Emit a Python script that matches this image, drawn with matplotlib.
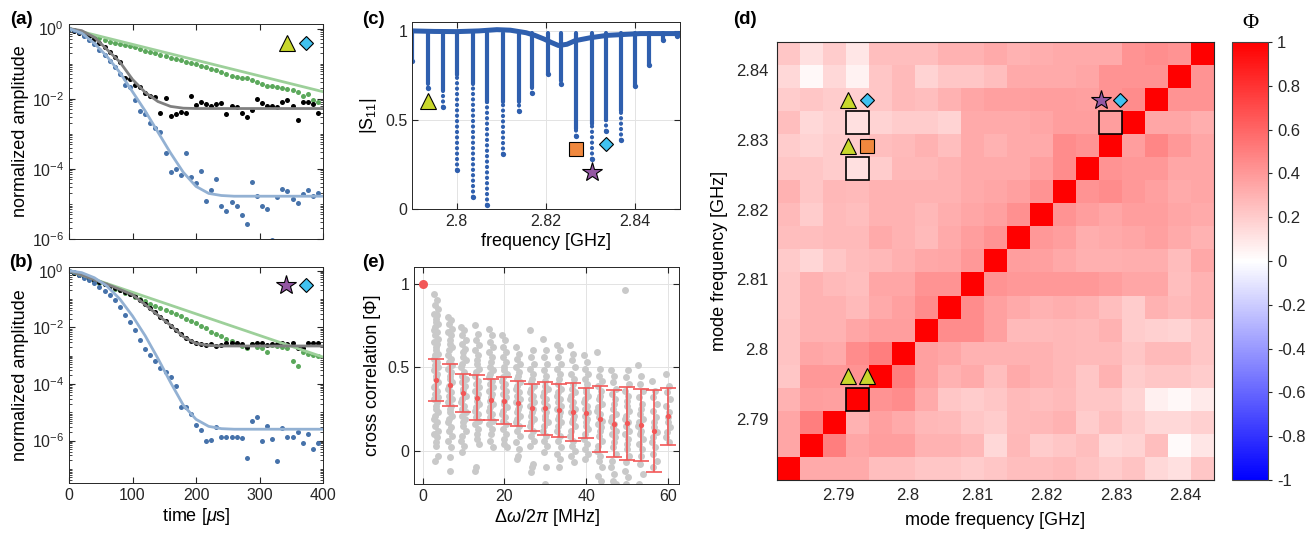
import numpy as np
import matplotlib
matplotlib.use('Agg')
import matplotlib.pyplot as plt
from matplotlib.colors import LinearSegmentedColormap
from matplotlib.patches import Rectangle
from matplotlib.ticker import LogLocator, NullFormatter, FuncFormatter

plt.rcParams['font.family'] = ['Liberation Sans', 'DejaVu Sans']
plt.rcParams['font.size'] = 11.5
plt.rcParams['axes.unicode_minus'] = False
plt.rcParams['mathtext.fontset'] = 'custom'
plt.rcParams['mathtext.rm'] = 'Liberation Sans'
plt.rcParams['mathtext.it'] = 'Liberation Sans:italic'
plt.rcParams['mathtext.bf'] = 'Liberation Sans:bold'

# ---------------- data: ring-down traces (log10 of normalized amplitude)
t_us = np.arange(0, 400, 8)
fit_t = list(range(0, 401, 20))

a_blue = [0, -0.03, -0.1, -0.2, -0.33, -0.45, -0.6, -0.75, -0.92, -1.1,
          -1.3, -1.61, -1.66, -2.05, -2.34, -2.44, -2.68, -2.83, -2.95, -3.56,
          -4.08, -4.0, -4.18, -3.56, -4.24, -4.39, -4.05, -4.91, -4.61, -4.29,
          -5.07, -5.19, -4.95, -5.05, -5.32, -5.58, -4.37, -4.76, -5.07, -5.14,
          -6.03, -4.8, -4.57, -4.63, -4.86, -4.98, -4.73, -4.61, -4.78, -4.7]
a_black = [0, -0.06, -0.12, -0.17, -0.22, -0.3, -0.4, -0.52, -0.66, -0.82,
           -0.96, -1.4, -1.45, -1.62, -1.66, -1.85, -1.92, -1.95, -2.42, -1.98,
           -2.5, -2.45, -2.38, -2.4, -1.92, -2.18, -2.08, -2.15, -2.2, -2.15,
           -2.12, -2.45, -2.2, -2.25, -2.42, -2.52, -2.32, -2.0, -2.12, -2.22,
           -2.2, -2.25, -2.1, -2.05, -2.2, -2.62, -2.08, -2.1, -2.15, -2.4]
a_green = [0, -0.04, -0.09, -0.15, -0.2, -0.24, -0.28, -0.33, -0.37, -0.4,
           -0.43, -0.47, -0.5, -0.54, -0.59, -0.63, -0.66, -0.7, -0.74, -0.78,
           -0.83, -0.87, -0.91, -0.95, -0.98, -1.02, -1.07, -1.11, -1.15, -1.19,
           -1.25, -1.29, -1.34, -1.37, -1.4, -1.42, -1.47, -1.53, -1.58, -1.63,
           -1.64, -1.67, -1.69, -1.71, -1.75, -1.82, -1.92, -1.87, -2.05, -2.08]
a_blue_fit = [0, -0.13, -0.42, -0.8, -1.25, -1.8, -2.35, -2.95, -3.55, -4.1, -4.5,
              -4.7, -4.76, -4.78, -4.78, -4.78, -4.78, -4.78, -4.78, -4.78, -4.78]
a_black_fit = [0, -0.06, -0.25, -0.6, -0.95, -1.45, -1.82, -2.08, -2.22, -2.27, -2.28,
               -2.28, -2.28, -2.28, -2.28, -2.28, -2.28, -2.28, -2.28, -2.28, -2.28]
a_green_fit = [0, -1.8]

b_blue = [0, -0.06, -0.15, -0.25, -0.33, -0.44, -0.58, -0.72, -0.85, -1.03,
          -1.3, -1.55, -1.8, -2.1, -2.45, -2.75, -2.98, -3.2, -3.45, -3.58,
          -3.75, -4.06, -4.83, -4.83, -5.06, -5.46, -5.63, -6.0, -5.97, -5.51,
          -5.86, -5.86, -5.89, -5.86, -5.91, -6.63, -5.31, -5.17, -6.0, -5.49,
          -5.95, -6.71, -5.54, -5.86, -5.86, -5.69, -6.09, -5.77, -6.31, -6.09]
b_black = [0, -0.07, -0.14, -0.21, -0.27, -0.34, -0.41, -0.47, -0.54, -0.62,
           -0.68, -0.75, -0.82, -0.9, -1.02, -1.17, -1.32, -1.47, -1.62, -1.78,
           -1.95, -2.08, -2.23, -2.38, -2.5, -2.55, -2.6, -2.62, -2.58, -2.66,
           -2.61, -2.57, -2.57, -2.57, -2.58, -2.69, -2.59, -2.55, -2.57, -2.63,
           -2.59, -2.59, -2.57, -2.59, -2.57, -2.72, -2.73, -2.57, -2.57, -2.57]
b_green = [0, -0.065, -0.13, -0.205, -0.28, -0.35, -0.42, -0.48, -0.55, -0.63,
           -0.7, -0.78, -0.83, -0.92, -0.99, -1.08, -1.16, -1.24, -1.32, -1.39,
           -1.46, -1.52, -1.6, -1.69, -1.77, -1.86, -1.94, -2.03, -2.15, -2.23,
           -2.31, -2.41, -2.5, -2.58, -2.66, -2.72, -2.59, -2.69, -2.74, -2.89,
           -2.64, -2.65, -2.69, -2.72, -3.2, -3.37, -2.89, -2.94, -2.98, -3.03]
b_blue_fit = [0, -0.07, -0.25, -0.55, -1.0, -1.6, -2.3, -3.1, -3.95, -4.75, -5.25,
              -5.5, -5.58, -5.6, -5.6, -5.6, -5.6, -5.6, -5.6, -5.6, -5.6]
b_black_fit = [0, -0.15, -0.32, -0.48, -0.66, -0.85, -1.2, -1.57, -1.93, -2.33, -2.57,
               -2.64, -2.66, -2.66, -2.66, -2.66, -2.66, -2.66, -2.66, -2.66, -2.66]
b_green_fit = [0, -3.05]

# ---------------- data: reflection spectrum |S11|
base_f = [2.79, 2.795, 2.80, 2.805, 2.809, 2.812, 2.8155, 2.8175, 2.8195, 2.8212,
          2.8228, 2.8247, 2.8265, 2.830, 2.8337, 2.8412, 2.85]
base_s = [1.0, 0.997, 0.996, 1.0, 1.007, 1.004, 0.99, 0.975, 0.955, 0.935,
          0.918, 0.925, 0.945, 0.962, 0.975, 0.985, 0.985]
dip_f = [2.7901, 2.7936, 2.7969, 2.8001, 2.8037, 2.8068, 2.8103, 2.8139, 2.8169, 2.8204,
         2.8234, 2.8268, 2.8303, 2.8335, 2.8368, 2.8400, 2.8430, 2.8463, 2.8494]
dip_solid = [0.83, 0.70, 0.66, 0.75, 0.70, 0.60, 0.60, 0.60, 0.68, 0.76,
             0.72, 0.45, 0.48, 0.50, 0.55, 0.69, 0.81, 0.95, 0.97]
dip_min = [0.83, 0.68, 0.57, 0.22, 0.07, 0.025, 0.31, 0.55, 0.65, 0.76,
           0.70, 0.41, 0.28, 0.44, 0.39, 0.69, 0.81, 0.95, 0.97]

# ---------------- data: cross correlation vs detuning
e_dw = [3.3, 6.7, 10.0, 13.3, 16.7, 20.0, 23.3, 26.7, 30.0, 33.3,
        36.7, 40.0, 43.3, 46.7, 50.0, 53.3, 56.7, 60.0]
e_mean = [0.4235, 0.3915, 0.3455, 0.3175, 0.3055, 0.2985, 0.2825, 0.257, 0.253, 0.241,
          0.232, 0.226, 0.189, 0.1605, 0.165, 0.1515, 0.115, 0.2045]
e_std = [0.128, 0.125, 0.113, 0.135, 0.121, 0.14, 0.136, 0.141, 0.157, 0.161,
         0.176, 0.152, 0.199, 0.2, 0.219, 0.216, 0.246, 0.169]
e_cloud = [
    [0.94, 0.9, 0.87, 0.85, 0.82, 0.81, 0.79, 0.77, 0.76, 0.74, 0.72, 0.71, 0.69, 0.67,
     0.65, 0.64, 0.62, 0.6, 0.58, 0.57, 0.55, 0.53, 0.51, 0.5, 0.48, 0.46, 0.45, 0.43,
     0.41, 0.39, 0.38, 0.36, 0.34, 0.32, 0.31, 0.29, 0.27, 0.25, 0.23, 0.21, 0.19,
     0.17, 0.15, 0.12, 0.1, 0.08, 0.05, 0.03, -0.03, -0.06],
    [0.8, 0.78, 0.76, 0.73, 0.71, 0.69, 0.66, 0.64, 0.62, 0.6, 0.57, 0.55, 0.53, 0.51,
     0.49, 0.47, 0.45, 0.43, 0.41, 0.39, 0.37, 0.35, 0.33, 0.31, 0.29, 0.27, 0.25,
     0.23, 0.21, 0.19, 0.17, 0.14, 0.12, 0.09, 0.06, 0.02, -0.04, -0.12],
    [0.74, 0.72, 0.69, 0.66, 0.64, 0.61, 0.59, 0.56, 0.54, 0.52, 0.5, 0.47, 0.45, 0.43,
     0.41, 0.39, 0.37, 0.35, 0.33, 0.31, 0.29, 0.27, 0.25, 0.23, 0.21, 0.19, 0.17,
     0.15, 0.12, 0.09, 0.06, 0.03, -0.01],
    [0.75, 0.7, 0.66, 0.63, 0.6, 0.57, 0.54, 0.52, 0.49, 0.47, 0.45, 0.42, 0.4, 0.38,
     0.36, 0.34, 0.32, 0.3, 0.28, 0.26, 0.24, 0.22, 0.2, 0.18, 0.16, 0.13, 0.1, 0.07,
     0.04, -0.1, -0.12],
    [0.73, 0.69, 0.65, 0.62, 0.59, 0.56, 0.53, 0.5, 0.48, 0.46, 0.44, 0.42, 0.4, 0.38,
     0.36, 0.34, 0.32, 0.3, 0.28, 0.26, 0.24, 0.22, 0.2, 0.18, 0.16, 0.13, 0.1, 0.06, 0.02],
    [0.69, 0.66, 0.62, 0.59, 0.56, 0.53, 0.5, 0.48, 0.46, 0.44, 0.42, 0.4, 0.38, 0.36,
     0.34, 0.32, 0.3, 0.28, 0.26, 0.24, 0.22, 0.2, 0.18, 0.16, 0.13, 0.1, 0.07, 0.04, 0.02],
    [0.62, 0.58, 0.55, 0.52, 0.5, 0.47, 0.45, 0.43, 0.41, 0.39, 0.37, 0.35, 0.33, 0.31,
     0.29, 0.27, 0.25, 0.23, 0.21, 0.19, 0.17, 0.15, 0.12, 0.09, 0.05, 0.01, -0.03, -0.05],
    [0.72, 0.6, 0.56, 0.52, 0.49, 0.46, 0.43, 0.41, 0.39, 0.37, 0.35, 0.33, 0.31, 0.29,
     0.27, 0.25, 0.23, 0.21, 0.19, 0.17, 0.15, 0.12, 0.09, 0.06, 0.03, -0.08, -0.1, -0.13],
    [0.67, 0.6, 0.56, 0.52, 0.48, 0.45, 0.42, 0.39, 0.37, 0.35, 0.33, 0.31, 0.29, 0.27,
     0.25, 0.23, 0.21, 0.19, 0.17, 0.15, 0.12, 0.09, 0.06, 0.03, -0.01, -0.1, -0.2],
    [0.63, 0.6, 0.56, 0.52, 0.49, 0.46, 0.43, 0.4, 0.37, 0.35, 0.33, 0.31, 0.29, 0.27,
     0.25, 0.23, 0.21, 0.19, 0.17, 0.15, 0.12, 0.09, 0.06, 0.02, -0.02, -0.05, -0.1],
    [0.63, 0.58, 0.54, 0.5, 0.46, 0.43, 0.4, 0.37, 0.35, 0.33, 0.31, 0.29, 0.27, 0.25,
     0.23, 0.21, 0.19, 0.17, 0.15, 0.12, 0.09, 0.06, 0.03, 0.0, -0.03, -0.07],
    [0.57, 0.53, 0.49, 0.46, 0.43, 0.4, 0.37, 0.35, 0.33, 0.31, 0.29, 0.27, 0.25, 0.23,
     0.21, 0.19, 0.17, 0.15, 0.13, 0.1, 0.07, 0.04, 0.01, -0.02, -0.05],
    [0.59, 0.49, 0.45, 0.42, 0.39, 0.36, 0.33, 0.31, 0.28, 0.26, 0.24, 0.22, 0.2, 0.18,
     0.16, 0.14, 0.12, 0.09, 0.06, 0.03, 0.0, -0.03, -0.06, -0.1, -0.15, -0.18],
    [0.48, 0.45, 0.41, 0.37, 0.34, 0.31, 0.28, 0.25, 0.22, 0.2, 0.18, 0.16, 0.14, 0.12,
     0.1, 0.08, 0.05, 0.02, -0.02, -0.06, -0.1, -0.14, -0.18, -0.2],
    [0.96, 0.48, 0.44, 0.4, 0.36, 0.33, 0.3, 0.27, 0.24, 0.21, 0.19, 0.17, 0.15, 0.12,
     0.1, 0.07, 0.04, 0.01, -0.03, -0.07, -0.12, -0.16, -0.2],
    [0.51, 0.45, 0.4, 0.36, 0.32, 0.28, 0.25, 0.22, 0.19, 0.17, 0.15, 0.12, 0.1, 0.07,
     0.04, 0.01, -0.03, -0.08, -0.14, -0.2],
    [0.42, 0.36, 0.32, 0.28, 0.24, 0.2, 0.17, 0.14, 0.11, 0.08, 0.05, 0.02, -0.02, -0.06, -0.1],
    [0.46, 0.39, 0.35, 0.31, 0.27, 0.23, 0.2, 0.17, 0.14, 0.11, 0.08, 0.05],
]

# ---------------- data: correlation matrix (rows listed from the highest mode down)
mode_lo, mode_hi = 2.7829, 2.8424
phi = [
    [0.22, 0.12, 0.2, 0.1, 0.25, 0.25, 0.25, 0.3, 0.3, 0.33, 0.3, 0.32, 0.33, 0.33, 0.33, 0.42, 0.44, 0.42, 1.0],
    [0.15, 0.03, 0.15, 0.05, 0.22, 0.27, 0.17, 0.22, 0.22, 0.25, 0.33, 0.33, 0.33, 0.35, 0.42, 0.42, 0.42, 1.0, 0.42],
    [0.2, 0.22, 0.2, 0.18, 0.22, 0.27, 0.25, 0.3, 0.35, 0.37, 0.37, 0.38, 0.38, 0.37, 0.42, 0.45, 1.0, 0.42, 0.42],
    [0.25, 0.15, 0.18, 0.12, 0.17, 0.2, 0.2, 0.17, 0.33, 0.33, 0.33, 0.35, 0.38, 0.38, 0.38, 1.0, 0.35, 0.35, 0.32],
    [0.2, 0.17, 0.2, 0.2, 0.25, 0.27, 0.3, 0.25, 0.33, 0.3, 0.33, 0.33, 0.45, 0.42, 1.0, 0.38, 0.47, 0.4, 0.35],
    [0.22, 0.22, 0.2, 0.12, 0.2, 0.28, 0.28, 0.3, 0.33, 0.33, 0.33, 0.37, 0.45, 1.0, 0.42, 0.4, 0.4, 0.35, 0.35],
    [0.3, 0.22, 0.28, 0.27, 0.3, 0.3, 0.3, 0.3, 0.33, 0.35, 0.37, 0.42, 1.0, 0.42, 0.45, 0.4, 0.37, 0.33, 0.35],
    [0.27, 0.2, 0.27, 0.25, 0.3, 0.3, 0.28, 0.32, 0.35, 0.37, 0.43, 1.0, 0.42, 0.38, 0.35, 0.38, 0.38, 0.35, 0.33],
    [0.25, 0.25, 0.27, 0.27, 0.33, 0.3, 0.27, 0.33, 0.38, 0.42, 1.0, 0.4, 0.38, 0.32, 0.33, 0.35, 0.37, 0.33, 0.3],
    [0.21, 0.16, 0.22, 0.26, 0.28, 0.31, 0.34, 0.35, 0.4, 1.0, 0.38, 0.37, 0.34, 0.31, 0.31, 0.32, 0.32, 0.26, 0.34],
    [0.22, 0.3, 0.27, 0.25, 0.35, 0.35, 0.42, 0.42, 1.0, 0.42, 0.4, 0.4, 0.4, 0.4, 0.38, 0.35, 0.35, 0.25, 0.3],
    [0.22, 0.3, 0.3, 0.27, 0.33, 0.37, 0.45, 1.0, 0.45, 0.37, 0.33, 0.3, 0.32, 0.3, 0.25, 0.2, 0.3, 0.27, 0.3],
    [0.23, 0.3, 0.3, 0.35, 0.38, 0.38, 1.0, 0.45, 0.45, 0.37, 0.27, 0.27, 0.28, 0.27, 0.3, 0.2, 0.18, 0.17, 0.22],
    [0.23, 0.35, 0.33, 0.45, 0.5, 1.0, 0.37, 0.35, 0.3, 0.3, 0.3, 0.3, 0.28, 0.27, 0.27, 0.22, 0.27, 0.27, 0.22],
    [0.22, 0.4, 0.4, 0.42, 1.0, 0.5, 0.37, 0.3, 0.33, 0.25, 0.33, 0.3, 0.28, 0.22, 0.3, 0.2, 0.22, 0.22, 0.2],
    [0.3, 0.38, 0.37, 1.0, 0.42, 0.45, 0.33, 0.22, 0.2, 0.22, 0.27, 0.25, 0.27, 0.22, 0.22, 0.17, 0.06, 0.03, 0.08],
    [0.35, 0.5, 1.0, 0.3, 0.37, 0.33, 0.28, 0.27, 0.22, 0.2, 0.27, 0.28, 0.3, 0.2, 0.25, 0.2, 0.15, 0.15, 0.18],
    [0.35, 1.0, 0.5, 0.35, 0.38, 0.38, 0.3, 0.3, 0.28, 0.15, 0.28, 0.2, 0.22, 0.25, 0.15, 0.17, 0.25, 0.02, 0.1],
    [1.0, 0.33, 0.33, 0.33, 0.25, 0.25, 0.22, 0.22, 0.2, 0.22, 0.25, 0.25, 0.27, 0.23, 0.2, 0.23, 0.15, 0.12, 0.22],
]
# highlighted pairs: (column mode index, row mode index counted from the lowest mode)
pair_cells = [(3, 15), (3, 13), (14, 15), (3, 3)]
pair_marks = [('tri', 'dia'), ('tri', 'sq'), ('star', 'dia'), ('tri', 'tri')]

MARKS = {'tri': dict(marker='^', ms=11, mfc='#c9d72b'),
         'sq': dict(marker='s', ms=9.5, mfc='#f0883e'),
         'star': dict(marker='*', ms=15, mfc='#9457a3'),
         'dia': dict(marker='D', ms=7.5, mfc='#40c2f0')}

AX_COL = '#262626'
BLUE_DOT, BLUE_FIT = '#4672aa', '#93b1d3'
GREEN_DOT, GREEN_FIT = '#5ba85b', '#9dd09a'
RED = '#f25757'
W, H = 1310, 533


def rect(l, t, r, b):
    return [l / W, 1 - b / H, (r - l) / W, (b - t) / H]


def mark(ax, x, y, kind, **kw):
    ax.plot(x, y, linestyle='none', mec='k', mew=0.8, zorder=6, **MARKS[kind], **kw)


def style_axes(ax, grid=False):
    ax.tick_params(which='both', direction='in', top=True, right=True,
                   colors=AX_COL, labelsize=11.5)
    ax.tick_params(which='major', length=4)
    ax.tick_params(which='minor', length=2)
    for s in ax.spines.values():
        s.set_color(AX_COL)
        s.set_linewidth(0.7)
    if grid:
        ax.grid(True, color='#e3e3e3', lw=0.7)
        ax.set_axisbelow(True)


def decay_panel(ax, blue, black, green, blue_fit, black_fit, green_fit, ylo):
    ax.plot(t_us, 10 ** np.array(green), 'o', color=GREEN_DOT, ms=3.6, mew=0)
    ax.plot(t_us, 10 ** np.array(black), 'o', color='k', ms=3.6, mew=0)
    ax.plot(t_us, 10 ** np.array(blue), 'o', color=BLUE_DOT, ms=3.6, mew=0)
    ax.plot([0, 400], 10 ** np.array(green_fit), color=GREEN_FIT, lw=2)
    ax.plot(fit_t, 10 ** np.array(black_fit), color='#808080', lw=2)
    ax.plot(fit_t, 10 ** np.array(blue_fit), color=BLUE_FIT, lw=2)
    ax.set_yscale('log')
    ax.set_xlim(0, 400)
    ax.set_ylim(ylo, 10 ** 0.13)
    ax.set_xticks([0, 100, 200, 300, 400])
    ax.set_yticks([1e-6, 1e-4, 1e-2, 1])
    ax.yaxis.set_minor_locator(LogLocator(base=10, subs=np.arange(1, 10), numticks=30))
    ax.yaxis.set_minor_formatter(NullFormatter())
    ax.set_ylabel('normalized amplitude', fontsize=13, labelpad=2)
    style_axes(ax)


fig = plt.figure(figsize=(13.1, 5.33), dpi=100)

# (a)
ax_a = fig.add_axes(rect(69, 24, 323, 239))
decay_panel(ax_a, a_blue, a_black, a_green, a_blue_fit, a_black_fit, a_green_fit, 1e-6)
ax_a.set_xticklabels([])
mark(ax_a, 0.859, 0.91, 'tri', transform=ax_a.transAxes)
mark(ax_a, 0.935, 0.91, 'dia', transform=ax_a.transAxes)

# (b)
ax_b = fig.add_axes(rect(69, 267, 323, 483))
decay_panel(ax_b, b_blue, b_black, b_green, b_blue_fit, b_black_fit, b_green_fit, 10 ** -7.5)
ax_b.set_xlabel(r'time [$\mu$s]', fontsize=13, labelpad=2)
mark(ax_b, 0.856, 0.915, 'star', transform=ax_b.transAxes)
mark(ax_b, 0.935, 0.915, 'dia', transform=ax_b.transAxes)

# (c)
ax_c = fig.add_axes(rect(412, 22, 680, 209))
c_blue = '#2f5fae'
for f, s_end, s_min in zip(dip_f, dip_solid, dip_min):
    ax_c.plot([f, f], [s_end, 0.99], color=c_blue, lw=3.0, solid_capstyle='round')
    if s_min < s_end:
        ax_c.plot([f, f], [s_min, s_end], color=c_blue, lw=3.0,
                  linestyle=(0, (0.05, 1.25)), dash_capstyle='round')
    ax_c.plot(f, s_min, 'o', color=c_blue, ms=3.8, mew=0)
ax_c.plot(base_f, base_s, color=c_blue, lw=3.6, solid_capstyle='round')
for k, kind in zip([1, 11, 12, 13], ['tri', 'sq', 'star', 'dia']):
    mark(ax_c, dip_f[k], dip_min[k] - 0.075, kind)
ax_c.set_xlim(2.79, 2.85)
ax_c.set_ylim(0, 1.05)
ax_c.set_xticks([2.8, 2.82, 2.84])
ax_c.set_xticklabels(['2.8', '2.82', '2.84'])
ax_c.set_yticks([0, 0.5, 1])
ax_c.set_yticklabels(['0', '0.5', '1'])
ax_c.set_xlabel('frequency [GHz]', fontsize=13, labelpad=3)
ax_c.set_ylabel(r'|S$_{11}$|', fontsize=13, labelpad=4)
style_axes(ax_c, grid=True)

# (e)
ax_e = fig.add_axes(rect(414, 267, 679, 484))
jitter = [-0.55, 0.2, -0.25, 0.5, -0.4, 0.3, 0.0, -0.1, 0.55, -0.3]
for x0, vals in zip(e_dw, e_cloud):
    xs = [x0 + jitter[i % len(jitter)] for i in range(len(vals))]
    ax_e.plot(xs, vals, 'o', color='#c9c9c9', ms=5, mew=0, zorder=2)
ax_e.errorbar(e_dw, e_mean, yerr=e_std, fmt='none', ecolor=RED,
              elinewidth=1.2, capsize=5.5, capthick=1.2, zorder=4)
ax_e.plot(e_dw, e_mean, 'o', color=RED, ms=3.8, mew=0, zorder=5)
ax_e.plot(0, 1, 'o', color=RED, ms=6.5, mew=0, zorder=5)
ax_e.set_xlim(-2.1, 62.7)
ax_e.set_ylim(-0.2, 1.1)
ax_e.set_xticks([0, 20, 40, 60])
ax_e.set_yticks([0, 0.5, 1])
ax_e.set_yticklabels(['0', '0.5', '1'])
ax_e.set_xlabel(r'$\Delta\omega/2\pi$ [MHz]', fontsize=13, labelpad=2)
ax_e.set_ylabel('cross correlation [Φ]', fontsize=13, labelpad=4)
style_axes(ax_e, grid=True)

# (d)
ax_d = fig.add_axes(rect(777, 42, 1214, 480))
cmap = LinearSegmentedColormap.from_list('bwr_matlab', ['#0000ff', '#ffffff', '#ff0000'])
n = len(phi)
step = (mode_hi - mode_lo) / (n - 1)
im = ax_d.imshow(np.array(phi), cmap=cmap, vmin=-1, vmax=1, origin='upper',
                 interpolation='nearest', aspect='auto',
                 extent=[mode_lo - step / 2, mode_hi + step / 2,
                         mode_lo - step / 2, mode_hi + step / 2])
for (ci, ri), (m1, m2) in zip(pair_cells, pair_marks):
    fx = mode_lo + ci * step
    fy = mode_lo + ri * step
    ax_d.add_patch(Rectangle((fx - step / 2, fy - step / 2), step, step,
                             fill=False, ec='k', lw=1.2, zorder=5))
    mark(ax_d, fx - 0.42 * step, fy + step, m1)
    mark(ax_d, fx + 0.42 * step, fy + step, m2)
d_ticks = [2.79, 2.8, 2.81, 2.82, 2.83, 2.84]
d_labels = ['2.79', '2.8', '2.81', '2.82', '2.83', '2.84']
ax_d.set_xticks(d_ticks)
ax_d.set_xticklabels(d_labels)
ax_d.set_yticks(d_ticks)
ax_d.set_yticklabels(d_labels)
ax_d.tick_params(direction='in', length=0, colors=AX_COL, labelsize=12, pad=6)
for s in ax_d.spines.values():
    s.set_color(AX_COL)
    s.set_linewidth(0.8)
ax_d.set_xlabel('mode frequency [GHz]', fontsize=13, labelpad=6)
ax_d.set_ylabel('mode frequency [GHz]', fontsize=13, labelpad=6)

cax = fig.add_axes(rect(1232, 42, 1268, 480))
cb = fig.colorbar(im, cax=cax, ticks=np.round(np.arange(-1, 1.01, 0.2), 1))
cb.ax.yaxis.set_major_formatter(FuncFormatter(lambda v, p: '%g' % (round(v, 1) + 0.0)))
cb.ax.tick_params(direction='out', length=3, colors=AX_COL, labelsize=12)
cb.outline.set_edgecolor('#444444')
cb.outline.set_linewidth(0.8)
cax.set_title('Φ', fontsize=16, family='Liberation Serif', pad=10)

# panel letters
for txt, x, y in [('(a)', 21, 20), ('(b)', 21, 263), ('(c)', 373, 20),
                  ('(e)', 373, 263), ('(d)', 745, 20)]:
    fig.text(x / W, 1 - y / H, txt, fontsize=13.5, fontweight='bold',
             ha='center', va='center')

fig.savefig('out.png', dpi=100)
